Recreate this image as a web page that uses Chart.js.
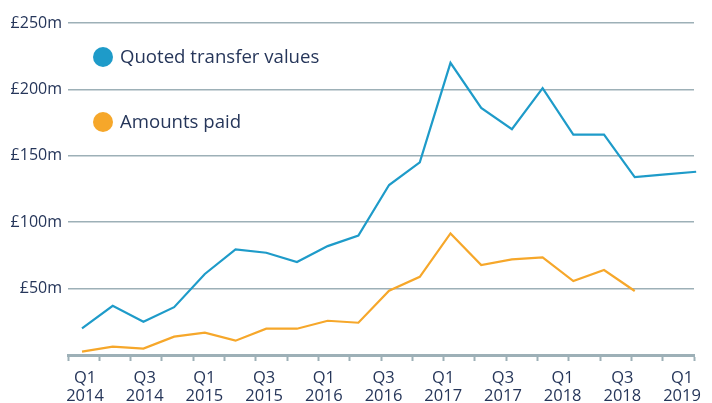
<!DOCTYPE html>
<html><head><meta charset="utf-8">
<script src="https://cdn.jsdelivr.net/npm/chart.js@4.4.1/dist/chart.umd.min.js"></script>
<style>html,body{margin:0;padding:0;background:#fff;overflow:hidden}</style>
</head><body>
<canvas id="c" width="712" height="403"></canvas>
<script>
const categories = ['Q1 2014','Q2 2014','Q3 2014','Q4 2014','Q1 2015','Q2 2015','Q3 2015','Q4 2015',
  'Q1 2016','Q2 2016','Q3 2016','Q4 2016','Q1 2017','Q2 2017','Q3 2017','Q4 2017',
  'Q1 2018','Q2 2018','Q3 2018','Q4 2018','Q1 2019'];
const quotedTransferValues = [20, 37, 25, 36, 61, 79.5, 77, 70, 82, 90, 128, 145, 220, 186, 170, 201, 166, 166, 134, 136, 138];
const amountsPaid = [2.5, 6.3, 4.8, 13.8, 16.8, 10.8, 19.8, 19.8, 25.8, 24.3, 48.4, 58.9, 91.5, 67.7, 72, 73.5, 55.7, 64, 48.2];
const xTickLabels = [['Q1','2014'],['Q3','2014'],['Q1','2015'],['Q3','2015'],['Q1','2016'],['Q3','2016'],
  ['Q1','2017'],['Q3','2017'],['Q1','2018'],['Q3','2018'],['Q1','2019']];
const yTickValues = [0, 50, 100, 150, 200, 250];
const seriesNames = ['Quoted transfer values', 'Amounts paid'];

const TEXT = '#26365a';
const GRID = '#9db0b7';
const BLUE = '#1e9bc9';
const ORANGE = '#f6a72a';

Chart.defaults.font.family = "'Open Sans', sans-serif";
Chart.defaults.font.size = 16;
Chart.defaults.color = TEXT;

const toPoints = arr => arr.map((v, i) => ({x: i, y: v}));

const legendPlugin = {
  id: 'insideLegend',
  afterDraw(chart) {
    const ctx = chart.ctx, a = chart.chartArea;
    const rows = [{dy: 34}, {dy: 99}];
    ctx.save();
    chart.data.datasets.forEach((ds, k) => {
      const cy = a.top + rows[k].dy;
      const cx = a.left + 35;
      ctx.beginPath();
      ctx.arc(cx, cy, 10, 0, Math.PI * 2);
      ctx.fillStyle = ds.borderColor;
      ctx.fill();
      ctx.fillStyle = TEXT;
      ctx.font = "18.6px 'Open Sans', sans-serif";
      ctx.textBaseline = 'middle';
      ctx.textAlign = 'left';
      ctx.fillText(ds.label, cx + 17, cy + 1);
    });
    ctx.restore();
  }
};

new Chart(document.getElementById('c'), {
  type: 'line',
  data: {
    datasets: [
      {label: seriesNames[0], data: toPoints(quotedTransferValues), borderColor: BLUE, backgroundColor: BLUE,
       borderWidth: 2.2, pointRadius: 0, tension: 0, clip: false, xAxisID: 'x', yAxisID: 'y'},
      {label: seriesNames[1], data: toPoints(amountsPaid), borderColor: ORANGE, backgroundColor: ORANGE,
       borderWidth: 2.2, pointRadius: 0, tension: 0, clip: false, xAxisID: 'x', yAxisID: 'y'}
    ]
  },
  options: {
    responsive: false,
    animation: false,
    devicePixelRatio: 1,
    layout: {padding: {top: 23, right: 18, left: 0, bottom: 0}},
    plugins: {legend: {display: false}, tooltip: {enabled: false}},
    scales: {
      x: {type: 'linear', display: false, min: -0.456, max: 19.93},
      xt: {type: 'linear', position: 'bottom', weight: 0, min: 0, max: 20,
        afterBuildTicks: ax => { ax.ticks = categories.map((c, i) => ({value: i})); },
        afterFit: sc => { sc.height = 6; },
        ticks: {display: false},
        grid: {drawOnChartArea: false, drawTicks: true, tickLength: 6, tickColor: GRID, tickWidth: 2},
        border: {display: true, color: GRID, width: 3}
      },
      xl: {type: 'linear', position: 'bottom', weight: 1, min: -0.57, max: 20.40,
        afterBuildTicks: ax => { ax.ticks = xTickLabels.map((l, k) => ({value: k * 2})); },
        afterFit: sc => { sc.height = 42; },
        ticks: {padding: 8, maxRotation: 0, autoSkip: false, font: {size: 16.5, lineHeight: 1.1},
          callback: v => xTickLabels[Math.round(v / 2)]},
        grid: {display: false, drawTicks: false},
        border: {display: false}
      },
      y: {type: 'linear', min: 0, max: 250,
        afterBuildTicks: ax => { ax.ticks = yTickValues.map(v => ({value: v})); },
        afterFit: sc => { sc.width = 68; },
        ticks: {padding: 6, callback: v => v === 0 ? '' : '£' + v + 'm'},
        grid: {color: GRID, lineWidth: 1.5, drawTicks: false},
        border: {display: false}
      }
    }
  },
  plugins: [legendPlugin]
});
</script>
</body></html>
